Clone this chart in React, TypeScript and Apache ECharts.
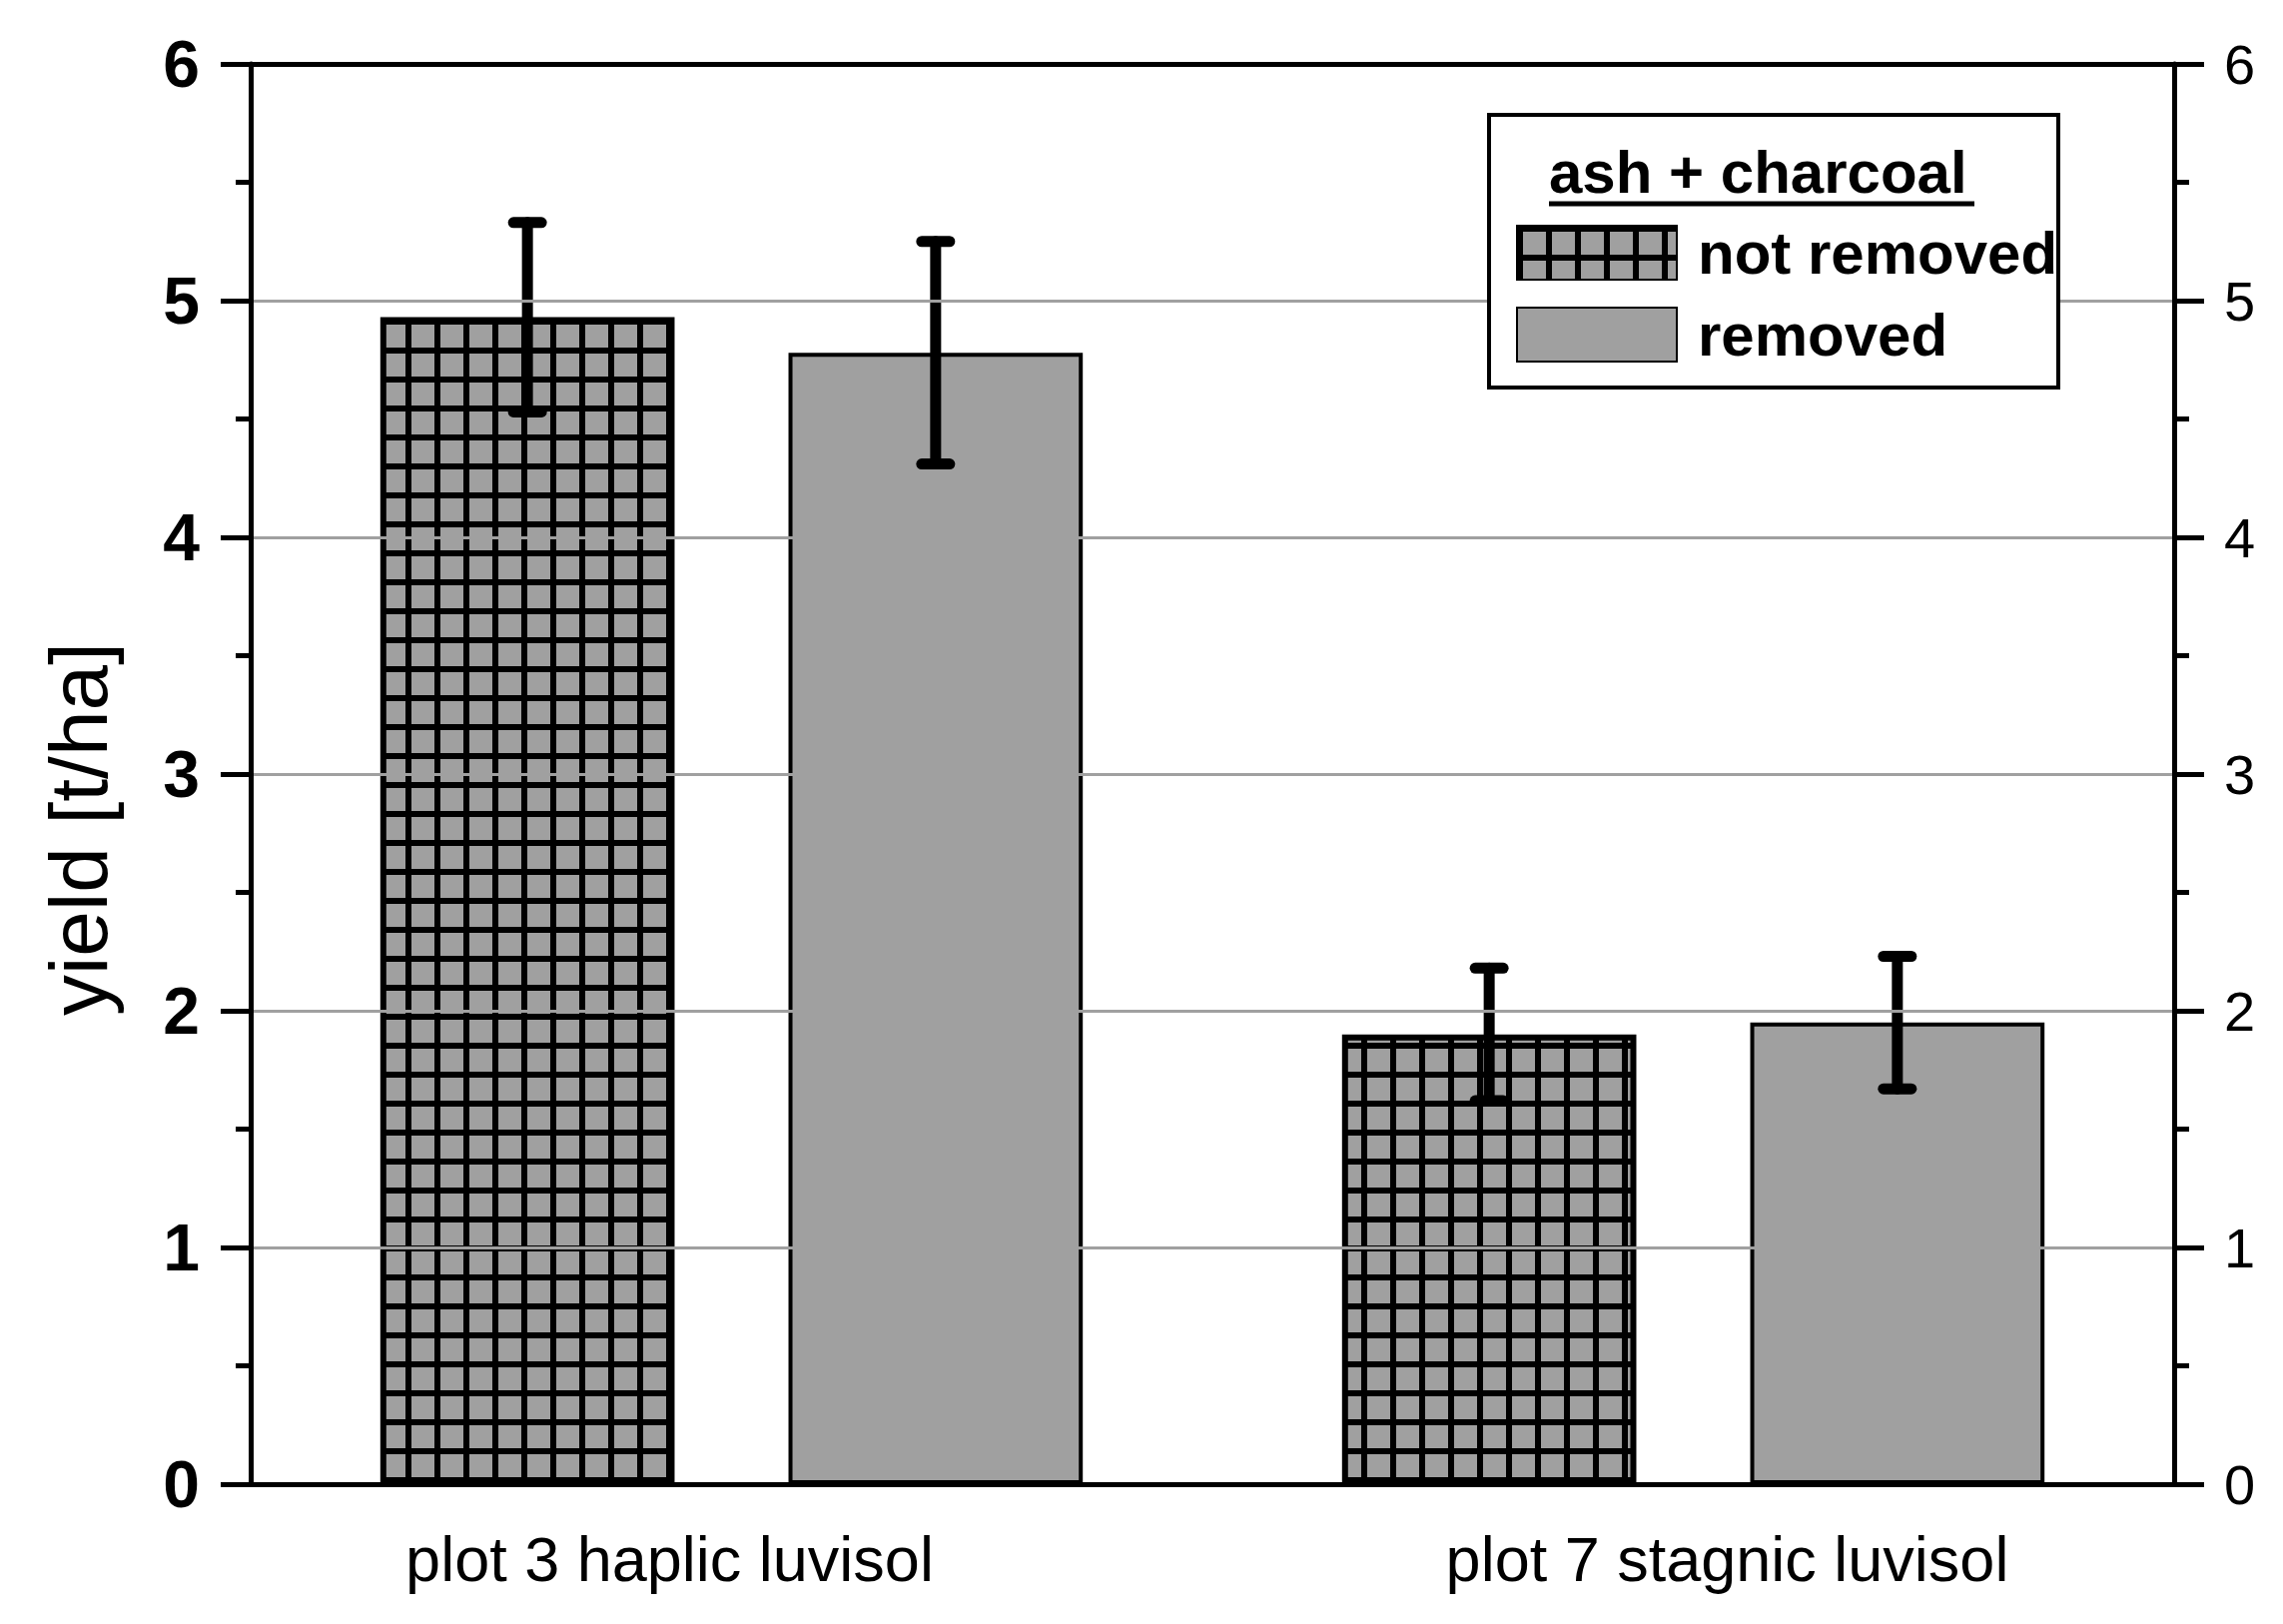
import React, { useEffect, useRef } from 'react';
import * as echarts from 'echarts';

const categories = ['plot 3 haplic luvisol', 'plot 7 stagnic luvisol'];
const seriesNames = ['not removed', 'removed'];
const notRemovedMeans = [4.93, 1.9];
const notRemovedErr = [0.4, 0.28];
const removedMeans = [4.78, 1.95];
const removedErr = [0.47, 0.28];
const yMin = 0;
const yMax = 6;
const yInterval = 1;
const legendTitle = 'ash + charcoal';
const yTitle = 'yield [t/ha]';

const FONT = '"Liberation Sans", Arial, Helvetica, sans-serif';
const GRAY = '#a0a0a0';
const BAR_W = 0.306;
const BAR_GAP = 0.387;

function makeHatch(): HTMLCanvasElement {
  const c = document.createElement('canvas');
  const s = 29;
  c.width = s;
  c.height = s;
  const ctx = c.getContext('2d')!;
  ctx.fillStyle = GRAY;
  ctx.fillRect(0, 0, s, s);
  ctx.fillStyle = '#000';
  ctx.fillRect(0, 0, 6, s);
  ctx.fillRect(0, 0, s, 6);
  return c;
}

export default function App() {
  const ref = useRef<HTMLDivElement>(null);
  useEffect(() => {
    if (!ref.current) return;
    const chart = echarts.init(ref.current, undefined, { renderer: 'svg' });
    const hatch = { image: makeHatch(), repeat: 'repeat' as const };
    const offset = (BAR_W * (1 + BAR_GAP)) / 2;

    const errSeries = (means: number[], errs: number[], dir: number) => ({
      type: 'custom',
      z: 5,
      silent: true,
      encode: { x: 0, y: 1 },
      data: means.map((m, i) => [i, m, errs[i]]),
      renderItem: (params: any, api: any) => {
        const cat = api.value(0);
        const mean = api.value(1);
        const err = api.value(2);
        const band = api.size([1, 0])[0];
        const top = api.coord([cat, mean + err]);
        const bot = api.coord([cat, mean - err]);
        const x = top[0] + dir * offset * band;
        const half = 14;
        const st = { stroke: '#000', lineWidth: 11, lineCap: 'round' };
        return {
          type: 'group',
          children: [
            { type: 'line', shape: { x1: x, y1: top[1], x2: x, y2: bot[1] }, style: st },
            { type: 'line', shape: { x1: x - half, y1: top[1], x2: x + half, y2: top[1] }, style: st },
            { type: 'line', shape: { x1: x - half, y1: bot[1], x2: x + half, y2: bot[1] }, style: st },
          ],
        };
      },
    });

    const option: any = {
      animation: false,
      backgroundColor: '#fff',
      textStyle: { fontFamily: FONT },
      grid: { left: 251, right: 109, top: 64, bottom: 140, containLabel: false },
      legend: {
        data: seriesNames,
        orient: 'vertical',
        left: 1518,
        top: 223,
        padding: 0,
        itemGap: 22,
        itemWidth: 160,
        itemHeight: 54,
        icon: 'rect',
        z: 10,
        textStyle: {
          fontFamily: FONT,
          fontSize: 60,
          fontWeight: 'bold',
          color: '#000',
          lineHeight: 54,
          padding: [0, 0, 0, 16],
        },
      },
      graphic: [
        {
          type: 'rect',
          z: 8,
          shape: { x: 1491, y: 115, width: 570, height: 273 },
          style: { fill: '#fff', stroke: '#000', lineWidth: 4 },
        },
        {
          type: 'text',
          z: 9,
          style: {
            x: 1551,
            y: 172,
            text: legendTitle,
            font: `bold 60px ${FONT}`,
            fill: '#000',
            textAlign: 'left',
            textVerticalAlign: 'middle',
          },
        },
        {
          type: 'line',
          z: 9,
          shape: { x1: 1551, y1: 204, x2: 1977, y2: 204 },
          style: { stroke: '#000', lineWidth: 5 },
        },
      ],
      xAxis: [
        {
          type: 'category',
          data: [
            { value: categories[0], textStyle: { padding: [0, 124, 0, 0] } },
            { value: categories[1], textStyle: { padding: [0, 0, 0, 68] } },
          ],
          axisLine: { onZero: false, lineStyle: { color: '#000', width: 5 } },
          axisTick: { show: false },
          axisLabel: { fontFamily: FONT, fontSize: 63, color: '#000', margin: 43 },
          z: 6,
        },
        {
          type: 'category',
          position: 'top',
          data: categories,
          axisLine: { onZero: false, lineStyle: { color: '#000', width: 5 } },
          axisTick: { show: false },
          axisLabel: { show: false },
          z: 6,
        },
      ],
      yAxis: [
        {
          type: 'value',
          position: 'left',
          min: yMin,
          max: yMax,
          interval: yInterval,
          name: yTitle,
          nameLocation: 'middle',
          nameGap: 132,
          nameTextStyle: { fontFamily: FONT, fontSize: 82, color: '#000', padding: [0, 110, 0, 0] },
          axisLine: { show: true, onZero: false, lineStyle: { color: '#000', width: 5 } },
          axisTick: { show: true, length: 30, lineStyle: { color: '#000', width: 5 } },
          minorTick: { show: true, splitNumber: 2, length: 15, lineStyle: { color: '#000', width: 5 } },
          splitLine: { show: true, lineStyle: { color: GRAY, width: 3 } },
          axisLabel: { fontFamily: FONT, fontSize: 66, fontWeight: 'bold', color: '#000', margin: 51 },
          z: 6,
        },
        {
          type: 'value',
          position: 'right',
          min: yMin,
          max: yMax,
          interval: yInterval,
          axisLine: { show: true, onZero: false, lineStyle: { color: '#000', width: 5 } },
          axisTick: { show: true, length: 30, lineStyle: { color: '#000', width: 5 } },
          minorTick: { show: true, splitNumber: 2, length: 15, lineStyle: { color: '#000', width: 5 } },
          splitLine: { show: false },
          axisLabel: { fontFamily: FONT, fontSize: 56, color: '#000', margin: 50 },
          z: 6,
        },
      ],
      series: [
        {
          name: seriesNames[0],
          type: 'bar',
          data: notRemovedMeans,
          barWidth: `${BAR_W * 100}%`,
          barGap: `${BAR_GAP * 100}%`,
          itemStyle: { color: hatch, borderColor: '#000', borderWidth: 6 },
          z: 2,
        },
        {
          name: seriesNames[1],
          type: 'bar',
          data: removedMeans,
          barWidth: `${BAR_W * 100}%`,
          barGap: `${BAR_GAP * 100}%`,
          itemStyle: { color: GRAY, borderColor: '#000', borderWidth: 4 },
          z: 2,
        },
        errSeries(notRemovedMeans, notRemovedErr, -1),
        errSeries(removedMeans, removedErr, 1),
      ],
    };
    chart.setOption(option);
    return () => chart.dispose();
  }, []);
  return (
    <div
      ref={ref}
      style={{ position: 'fixed', left: 0, top: 0, width: 2286, height: 1626, background: '#fff' }}
    />
  );
}
